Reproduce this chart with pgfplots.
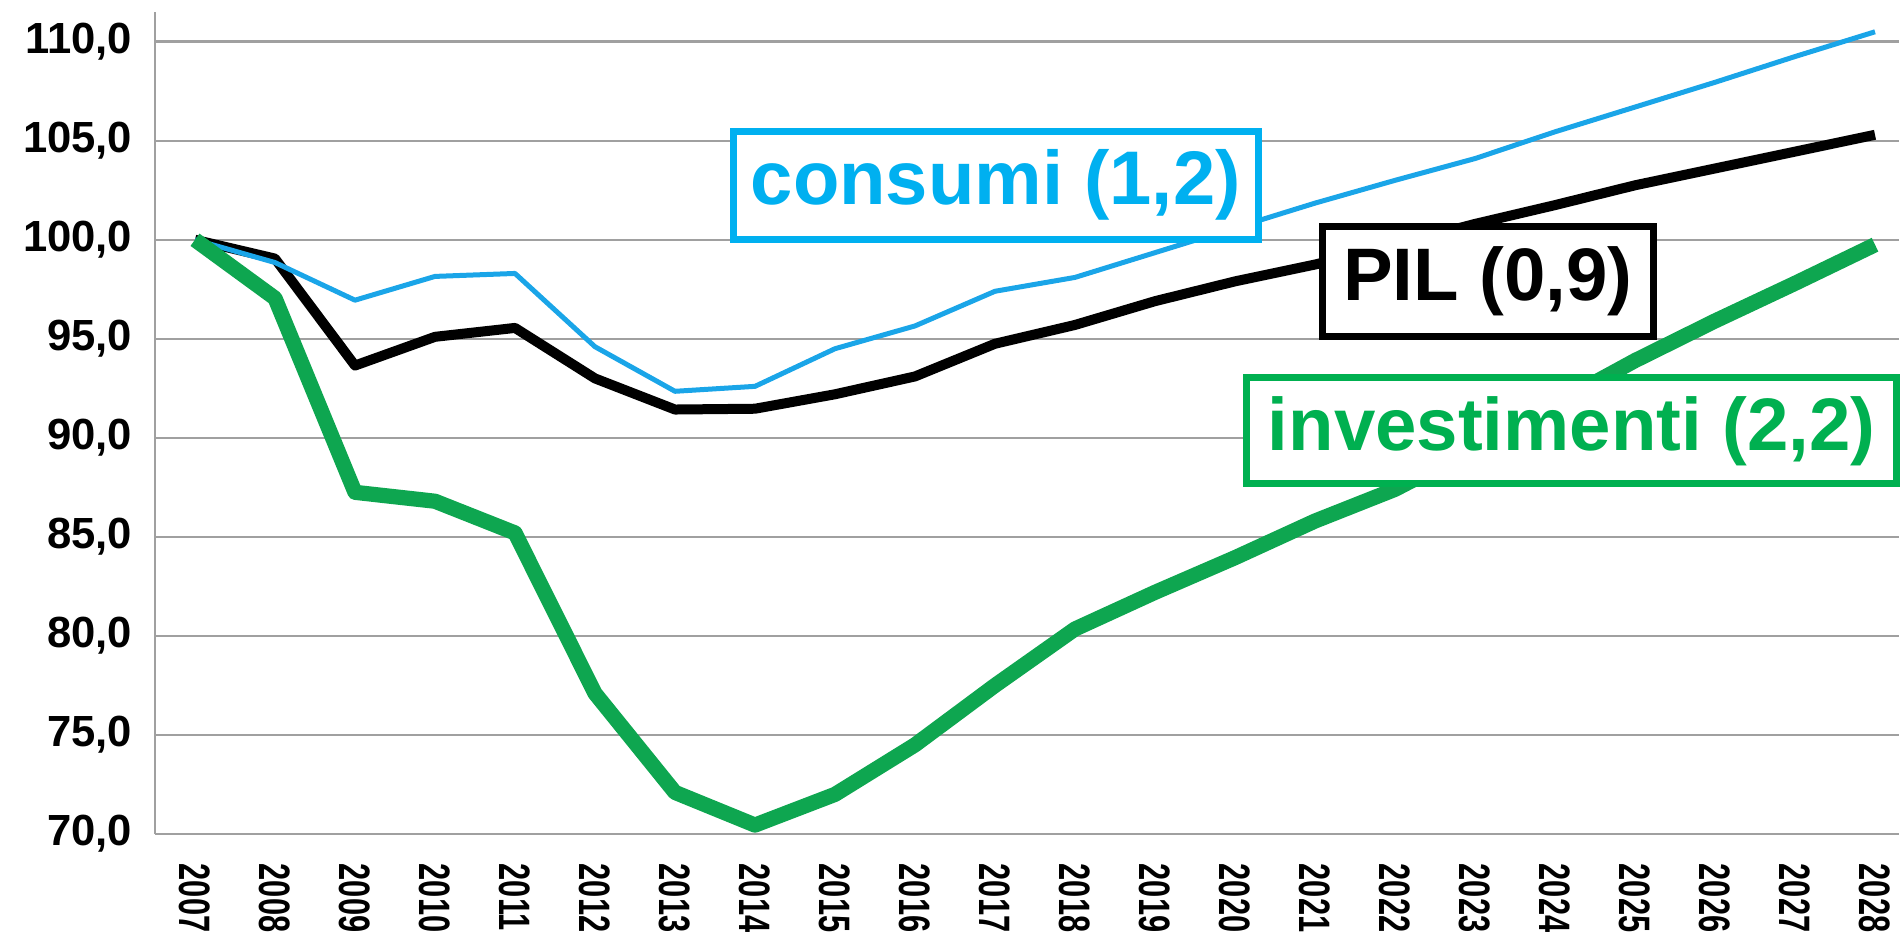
\documentclass[border=0pt]{standalone}
\usepackage{fontspec}
\setmainfont{Liberation Sans}
\newfontfamily\narrowfont[FakeStretch=0.7]{Liberation Sans}
\usepackage{pgfplots}
\pgfplotsset{compat=1.18}
\definecolor{gridgray}{HTML}{A0A0A0}
\definecolor{cblue}{HTML}{1AA5E8}
\definecolor{cbluetxt}{HTML}{00B0F0}
\definecolor{cgreen}{HTML}{0EA650}
\definecolor{cgreentxt}{HTML}{00B050}
\begin{document}
\begin{tikzpicture}
\path[use as bounding box] (0,0) rectangle (475.25bp,234.25bp);
\begin{axis}[
  scale only axis,
  width=436bp, height=205.5bp,
  at={(38.75bp,25.75bp)}, anchor=south west,
  xmin=2006.5, xmax=2028.3,
  ymin=70, ymax=111.5,
  axis x line=bottom, axis y line=left,
  axis line style={-, draw=gridgray, line width=0.6bp},
  ymajorgrids,
  grid style={draw=gridgray, line width=0.6bp},
  major tick length=0pt,
  ytick={70,75,80,85,90,95,100,105,110},
  yticklabels={{70,0},{75,0},{80,0},{85,0},{90,0},{95,0},{100,0},{105,0},{110,0}},
  xtick={2007,2008,2009,2010,2011,2012,2013,2014,2015,2016,2017,2018,2019,2020,2021,2022,2023,2024,2025,2026,2027,2028},
  xticklabels={2007,2008,2009,2010,2011,2012,2013,2014,2015,2016,2017,2018,2019,2020,2021,2022,2023,2024,2025,2026,2027,2028},
  yticklabel style={font=\fontsize{10.9bp}{12bp}\selectfont\bfseries, anchor=east, inner sep=0pt},
  yticklabel shift=5.5bp,
  xticklabel style={font=\fontsize{11bp}{12bp}\selectfont\narrowfont\bfseries, rotate=-90, anchor=west, inner sep=0pt},
  xticklabel shift=7.25bp,
  clip=false,
]
\addplot[black, line width=2.5bp, line join=round] coordinates {
(2007,100) (2008,99.05) (2009,93.65) (2010,95.1) (2011,95.55) (2012,93.0) (2013,91.43) (2014,91.47) (2015,92.2) (2016,93.1) (2017,94.75) (2018,95.7) (2019,96.9) (2020,97.9) (2021,98.75) (2022,99.75) (2023,100.8) (2024,101.75) (2025,102.75) (2026,103.6) (2027,104.45) (2028,105.3)
};
\addplot[cblue, line width=1.25bp, line join=round] coordinates {
(2007,100) (2008,98.85) (2009,96.95) (2010,98.15) (2011,98.3) (2012,94.6) (2013,92.35) (2014,92.6) (2015,94.5) (2016,95.65) (2017,97.4) (2018,98.1) (2019,99.35) (2020,100.6) (2021,101.85) (2022,103.0) (2023,104.1) (2024,105.45) (2025,106.7) (2026,107.95) (2027,109.25) (2028,110.5)
};
\addplot[cgreen, line width=3.8bp, line join=round] coordinates {
(2007,100) (2008,97.05) (2009,87.25) (2010,86.8) (2011,85.2) (2012,77.1) (2013,72.1) (2014,70.45) (2015,72.0) (2016,74.5) (2017,77.5) (2018,80.35) (2019,82.2) (2020,83.95) (2021,85.8) (2022,87.4) (2023,89.5) (2024,91.7) (2025,93.9) (2026,95.9) (2027,97.8) (2028,99.75)
};
\node[draw=cbluetxt, fill=white, line width=1.75bp, minimum width=131.25bp, minimum height=27bp, inner sep=0pt, text=cbluetxt, font=\fontsize{19bp}{20bp}\selectfont\bfseries] at (axis cs:2017.01,102.75) {consumi (1,2)};
\node[draw=black, fill=white, line width=1.75bp, minimum width=82.75bp, minimum height=27.5bp, inner sep=0pt, text=black, font=\fontsize{18.6bp}{20bp}\selectfont\bfseries] at (axis cs:2023.16,97.91) {PIL (0,9)};
\node[draw=cgreentxt, fill=white, line width=1.75bp, minimum width=162.5bp, minimum height=26.5bp, inner sep=0pt, text=cgreentxt, font=\fontsize{18.6bp}{20bp}\selectfont\bfseries] at (axis cs:2024.21,90.35) {investimenti (2,2)};
\end{axis}
\end{tikzpicture}
\end{document}
